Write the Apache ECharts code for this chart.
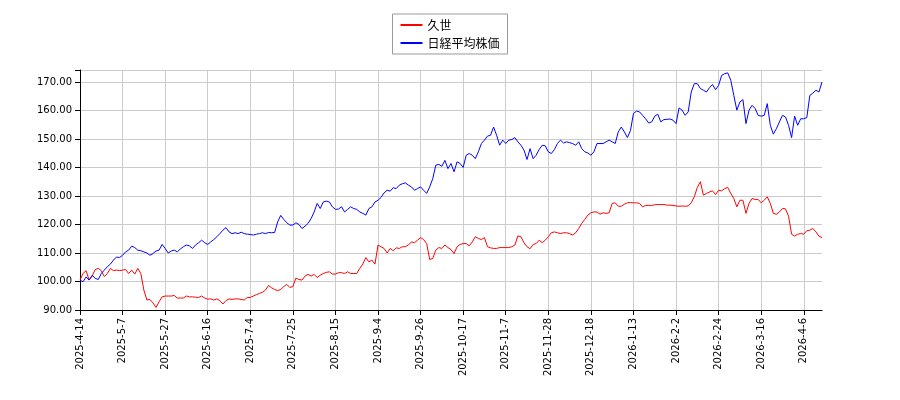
<!DOCTYPE html>
<html>
<head>
<meta charset="utf-8">
<script src="https://cdn.jsdelivr.net/npm/echarts@6/dist/echarts.min.js"></script>
<style>html,body{margin:0;padding:0;background:#fff;}#chart{width:900px;height:400px;}</style>
</head>
<body>
<div id="chart"></div>
<script>
// 久世 vs 日経平均株価（始値を100として指数化）
const seriesNames = ['久世', '日経平均株価'];
const startDate = '2025-04-14';
const holidays = ['2025-04-29', '2025-05-05', '2025-05-06', '2025-07-21', '2025-08-11', '2025-09-15', '2025-09-23',
    '2025-10-13', '2025-11-03', '2025-11-24', '2025-12-31', '2026-01-01', '2026-01-02', '2026-01-12',
    '2026-02-11', '2026-02-23', '2026-03-20'];

const kuze = [100.5, 102.8, 103.8, 100.5, 101.9, 104.2, 104.6, 103.8, 101.7, 102.8, 104.6, 103.8, 104.0, 103.8, 104.0,
    104.2, 102.8, 104.0, 102.6, 104.6, 102.8, 97.0, 93.5, 93.7, 92.5, 90.9, 92.9, 94.6, 94.9, 94.9, 94.9, 95.1, 94.2,
    94.2, 94.2, 94.9, 94.6, 94.6, 94.5, 94.4, 94.9, 94.2, 93.8, 93.9, 93.5, 93.9, 93.3, 92.1, 93.3, 93.9, 93.7, 93.9,
    93.9, 93.7, 93.5, 94.4, 94.4, 94.9, 95.4, 95.8, 96.2, 97.0, 98.6, 97.8, 97.2, 96.8, 97.2, 98.2, 99.0, 97.9, 98.2,
    101.2, 100.7, 100.5, 101.9, 102.5, 101.9, 102.5, 101.4, 102.2, 102.8, 103.2, 103.4, 102.6, 102.6, 103.1, 103.1,
    102.8, 103.4, 102.8, 102.8, 102.8, 104.6, 106.1, 108.4, 106.9, 107.5, 106.1, 112.8, 112.2, 111.6, 110.0, 111.6,
    110.8, 111.8, 111.6, 112.2, 112.2, 112.8, 113.9, 113.6, 114.5, 115.4, 114.7, 113.3, 107.7, 108.1, 111.0, 111.9,
    111.6, 112.8, 111.9, 111.2,
    109.8, 112.2, 113.0, 113.3, 113.3, 112.5, 113.9, 115.7, 115.1, 114.7, 115.4, 112.2, 111.8, 111.6, 111.6, 111.9,
    111.9, 111.9, 111.9, 112.2, 112.8, 116.0, 115.7, 113.6, 112.2, 111.5, 113.0, 113.3, 114.5, 113.6, 114.5, 115.7,
    117.1, 117.4, 117.1, 116.8, 117.1, 117.1, 116.8, 116.3, 117.1, 118.6, 120.4, 121.8, 123.3, 124.1, 124.4, 124.4,
    123.6, 124.1, 123.9, 124.1, 127.4, 127.6, 126.4, 126.4, 127.1, 127.6, 127.7, 127.6, 127.6, 127.4, 126.2, 126.7,
    126.7, 126.7, 126.9, 127.0, 127.0, 127.0, 126.8, 126.8, 126.7, 126.5, 126.4, 126.5, 126.4, 126.5, 127.6, 129.7,
    133.0, 135.0, 130.3, 130.9, 131.4, 131.8, 130.5, 132.0, 131.8, 132.6, 133.0, 130.9, 129.1, 126.2, 128.5, 128.5,
    123.9, 127.4, 129.1, 128.8, 128.8, 127.6, 128.5, 129.7, 127.4, 123.9, 123.6, 124.4, 125.6, 125.5, 122.9, 116.6,
    115.9, 116.6, 116.8, 116.6, 117.8, 118.0, 118.6, 117.4, 115.9, 115.4];

const nikkei = [100.5, 99.9, 101.6, 100.5, 102.2, 101.1, 100.7, 102.8, 104.0, 105.2, 106.1, 107.5, 108.6, 108.4, 109.2,
    110.4, 111.0, 112.4, 111.9, 111.0, 110.8, 110.4, 110.0, 109.2, 109.8, 110.7, 111.0, 113.0, 111.6, 110.0, 110.7,
    111.0, 110.4, 111.4, 112.2, 112.8, 112.5, 111.6, 112.8, 113.6, 114.5, 113.6, 113.0, 113.9, 114.7, 115.7, 116.8,
    118.0, 118.9, 117.4, 116.8, 117.1, 116.8, 117.3, 116.8, 116.6, 116.5, 116.3, 116.6, 116.8, 117.1, 116.8, 117.2,
    117.1, 117.2, 120.9, 123.2, 121.8, 120.6, 119.8, 119.8, 120.6, 120.0, 118.6, 119.4, 120.4, 122.1, 124.4, 127.4,
    125.6, 127.9, 128.2, 127.9, 126.2, 125.3, 125.4, 126.2, 124.4, 125.3, 126.2, 125.6, 125.3, 124.4, 123.9, 123.3,
    125.6, 126.2, 127.9, 128.5, 129.5, 131.1, 132.0, 131.7, 132.9, 132.6, 133.8, 134.3, 134.6, 133.8, 133.2, 132.0,
    132.6, 133.2, 132.0, 130.9, 133.2, 136.1, 140.8, 141.1, 140.4, 142.5, 139.6, 141.4,
    138.5, 142.0, 141.4, 140.0, 144.3, 144.9, 144.3, 143.1, 145.5, 148.4, 149.6, 151.0, 151.3, 154.2, 151.3, 147.8,
    149.6, 148.4, 149.6, 149.8, 150.5, 149.0, 147.8, 146.1, 142.8, 146.6, 143.1, 144.3, 146.3, 147.8, 147.6, 145.5,
    144.9, 146.3, 148.4, 149.6, 148.6, 149.0, 148.7, 148.4, 147.8, 149.0, 146.6, 145.5, 145.1, 144.3, 145.5, 148.4,
    148.4, 148.4, 149.0, 149.6, 149.0, 148.4, 152.5, 154.2, 152.5, 150.5, 152.9, 158.9, 159.8, 159.5, 158.3, 157.1,
    155.6, 156.0, 158.0, 158.7, 156.0, 156.8, 156.9, 157.0, 156.6, 155.4, 160.9, 160.1, 158.3, 159.5, 166.5, 169.4,
    169.4, 167.7, 167.1, 166.5, 168.0, 169.1, 167.3, 168.8, 172.3, 172.9, 173.2, 170.6, 165.3, 160.1, 163.0, 163.8,
    155.4, 160.1, 161.8, 160.7, 158.3, 158.0, 158.3, 162.4, 154.8, 151.7, 153.6, 156.0, 158.3, 157.7, 154.8, 150.5,
    158.0, 154.8, 157.1, 157.1, 157.5, 165.3, 166.1, 167.1, 166.5, 170.0];

// 営業日の日付ラベル
const dates = [];
const d = new Date(startDate + 'T00:00:00Z');
const count = Math.max(kuze.length, nikkei.length);
while (dates.length < count) {
    const iso = d.toISOString().slice(0, 10);
    const wd = d.getUTCDay();
    if (wd !== 0 && wd !== 6 && holidays.indexOf(iso) < 0) {
        dates.push(d.getUTCFullYear() + '-' + (d.getUTCMonth() + 1) + '-' + d.getUTCDate());
    }
    d.setUTCDate(d.getUTCDate() + 1);
}

const chart = echarts.init(document.getElementById('chart'));
const option = {
    animation: false,
    color: ['#ff0000', '#0000ff'],
    legend: {
        top: 14,
        left: 'center',
        orient: 'vertical',
        itemWidth: 22,
        itemHeight: 2,
        itemGap: 6,
        padding: [5, 8],
        borderColor: '#999',
        borderWidth: 1,
        textStyle: { fontFamily: 'Noto Sans CJK JP', fontSize: 12, color: '#000' },
        data: seriesNames.map(n => ({ name: n, icon: 'rect' }))
    },
    grid: { left: 80, right: 78, top: 70, bottom: 90 },
    xAxis: {
        type: 'category',
        boundaryGap: false,
        data: dates,
        axisLine: { lineStyle: { color: '#000' } },
        axisTick: { interval: 13, lineStyle: { color: '#000' } },
        axisLabel: { interval: 13, rotate: 90, color: '#000', fontSize: 10, fontFamily: 'DejaVu Sans' },
        splitLine: { show: true, interval: 13, lineStyle: { color: '#ccc' } }
    },
    yAxis: {
        type: 'value',
        min: 90,
        max: 174.2,
        interval: 10,
        axisLine: { show: true, lineStyle: { color: '#000' } },
        axisTick: { show: true, lineStyle: { color: '#000' } },
        axisLabel: { color: '#000', fontSize: 10, fontFamily: 'DejaVu Sans', formatter: v => v > 174 ? '' : v.toFixed(2) },
        splitLine: { lineStyle: { color: '#ccc' } }
    },
    series: [
        { name: seriesNames[0], type: 'line', data: kuze, showSymbol: false, lineStyle: { width: 1 } },
        { name: seriesNames[1], type: 'line', data: nikkei, showSymbol: false, lineStyle: { width: 1 } }
    ]
};
chart.setOption(option);
</script>
</body>
</html>
